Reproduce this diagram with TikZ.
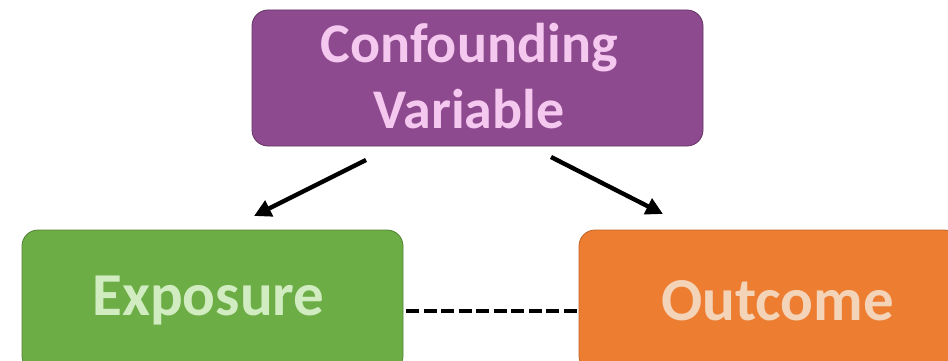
\documentclass[tikz,border=0pt]{standalone}
\usepackage{fontspec}
\setmainfont{Carlito}
\usetikzlibrary{positioning,calc,arrows.meta}
\definecolor{confpurple}{HTML}{8E4A8E}
\definecolor{conftext}{HTML}{F4C8EF}
\definecolor{expgreen}{HTML}{6CAD45}
\definecolor{exptext}{HTML}{D2ECC2}
\definecolor{outorange}{HTML}{ED7D31}
\definecolor{outtext}{HTML}{F4D4B8}
\tikzset{>={Triangle[length=17pt,width=17pt]}}
\tikzset{
  box/.style={rounded corners=16pt,line width=0.8pt,align=center,
    inner sep=0pt,font=\bfseries\fontsize{61}{66}\selectfont},
  causal/.style={->,line width=4.4pt},
}

\begin{document}
\begin{tikzpicture}[x=1pt,y=-1pt]
\useasboundingbox (0,0) rectangle (948,361);
\node[box,fill=confpurple,draw=confpurple!70!black,text=conftext,
  minimum width=451pt,minimum height=136pt] (conf) at (477.5,78) {};
\node[text=conftext,align=center,inner sep=0pt,
  font=\bfseries\fontsize{56}{66}\selectfont] (conftxt) at (469,76) {Confounding\\Variable};
\node[box,fill=expgreen,draw=expgreen!75!black,text=exptext,
  minimum width=381pt,minimum height=142pt] (expo) at (212.5,301) {};
\node[text=exptext,inner sep=0pt,font=\bfseries\fontsize{61}{66}\selectfont]
  (expotxt) at (208.5,301) {Exposure};
\node[box,fill=outorange,draw=outorange!80!black,text=outtext,
  minimum width=381pt,minimum height=142pt] (outc) at (769.5,301) {};
\node[text=outtext,inner sep=0pt,font=\bfseries\fontsize{61}{66}\selectfont]
  (outctxt) at (777.5,301) {Outcome};
\coordinate (a1) at (366,160);
\coordinate (a2) at (254,216);
\coordinate (b1) at (551,157);
\coordinate (b2) at (663,214);
\draw[causal] (a1) -- (a2);
\draw[causal] (b1) -- (b2);
\draw[line width=4.5pt,dash pattern=on 13pt off 4.5pt] ($(expo.east|-0,311)+(3,0)$) -- (outc.west|-0,311);
\end{tikzpicture}
\end{document}
